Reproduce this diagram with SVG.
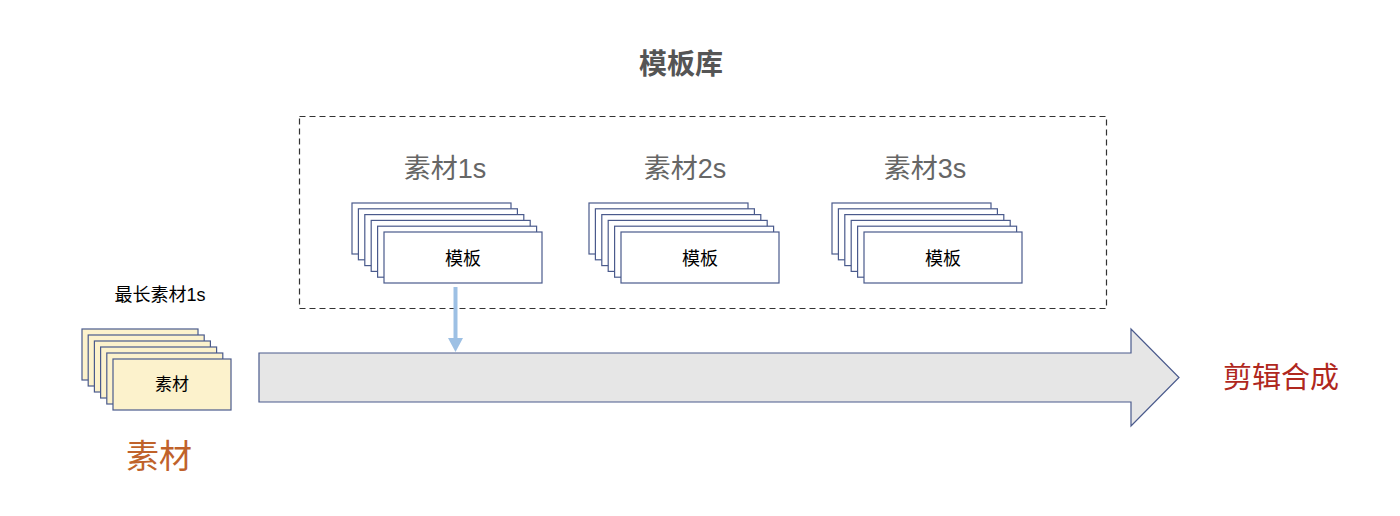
<svg xmlns="http://www.w3.org/2000/svg" width="1400" height="516" viewBox="0 0 1400 516">
<defs>
<style>
.t{font-family:"Liberation Sans","Noto Sans CJK SC",sans-serif}
.card{fill:#ffffff;stroke:#4a5a8c;stroke-width:1.2}
.mat{fill:#fcf2cc;stroke:#4a5a8c;stroke-width:1.2}
.title{font-size:27px;fill:#666666}
.lbl{font-size:18px;fill:#000000}
</style>
<g id="stackT">
<rect class="card" x="0" y="0" width="159" height="51"/>
<rect class="card" x="6.4" y="5.8" width="159" height="51"/>
<rect class="card" x="12.8" y="11.6" width="159" height="51"/>
<rect class="card" x="19.2" y="17.4" width="159" height="51"/>
<rect class="card" x="25.6" y="23.2" width="159" height="51"/>
<rect class="card" x="32" y="29" width="158" height="51"/>
</g>
</defs>
<rect width="1400" height="516" fill="#ffffff"/>

<g id="library">
<rect x="299.5" y="116.5" width="807" height="192" fill="none" stroke="#333333" stroke-width="1.2" stroke-dasharray="6,4"/>
<text class="t" x="681" y="74" text-anchor="middle" font-size="28" font-weight="bold" fill="#555555">模板库</text>
</g>

<g id="group1">
<text class="t title" x="445" y="178" text-anchor="middle">素材1s</text>
<use href="#stackT" x="352" y="203"/>
<text class="t lbl" x="463" y="264.5" text-anchor="middle">模板</text>
</g>
<g id="group2">
<text class="t title" x="685" y="178" text-anchor="middle">素材2s</text>
<use href="#stackT" x="589" y="203"/>
<text class="t lbl" x="700" y="264.5" text-anchor="middle">模板</text>
</g>
<g id="group3">
<text class="t title" x="925" y="178" text-anchor="middle">素材3s</text>
<use href="#stackT" x="832" y="203"/>
<text class="t lbl" x="943" y="264.5" text-anchor="middle">模板</text>
</g>

<g id="material">
<text class="t" x="160" y="301" text-anchor="middle" font-size="18" fill="#000000">最长素材1s</text>
<rect class="mat" x="82" y="329" width="116" height="51"/>
<rect class="mat" x="88.2" y="335" width="116" height="51"/>
<rect class="mat" x="94.4" y="341" width="116" height="51"/>
<rect class="mat" x="100.6" y="347" width="116" height="51"/>
<rect class="mat" x="106.8" y="353" width="116" height="51"/>
<rect class="mat" x="113" y="359" width="118" height="51"/>
<text class="t" x="172" y="390" text-anchor="middle" font-size="17" fill="#000000">素材</text>
<text class="t" x="159" y="468" text-anchor="middle" font-size="33" fill="#c0622a">素材</text>
</g>

<g id="output">
<text class="t" x="1281" y="388" text-anchor="middle" font-size="29" fill="#b0281e">剪辑合成</text>
</g>

<g id="connectors">
<polygon points="259,353 1131,353 1131,329 1179,377.5 1131,426 1131,402 259,402" fill="#e6e6e6" stroke="#4a5a8c" stroke-width="1.2"/>
<line x1="455.5" y1="287" x2="455.5" y2="340" stroke="#9dc0e4" stroke-width="4"/>
<polygon points="448,338 463,338 455.5,352" fill="#9dc0e4"/>
</g>
</svg>
